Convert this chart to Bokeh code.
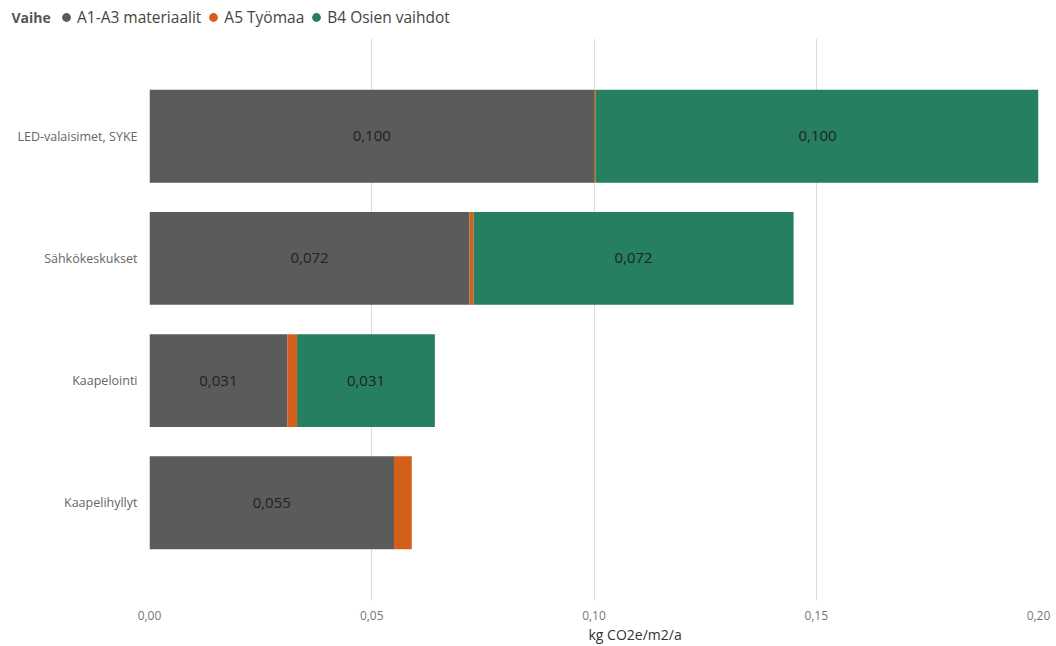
from bokeh.plotting import figure
from bokeh.layouts import column
from bokeh.models import (ColumnDataSource, FactorRange, FixedTicker, Legend, LegendItem,
                          Title, LabelSet, Label)
from bokeh.core.properties import value
from bokeh.embed import file_html
from bokeh.resources import INLINE

categories = ["LED-valaisimet, SYKE", "Sähkökeskukset", "Kaapelointi", "Kaapelihyllyt"]
a1_a3 = [0.100, 0.072, 0.031, 0.055]
a5 = [0.0003, 0.0009, 0.0022, 0.0040]
b4 = [0.100, 0.072, 0.031, 0.0]
series_names = ["A1-A3 materiaalit", "A5 Työmaa", "B4 Osien vaihdot"]
colors = ["#5b5b5b", "#d35f1b", "#267f60"]
x_ticks = [0.0, 0.05, 0.10, 0.15, 0.20]
x_tick_labels = ["0,00", "0,05", "0,10", "0,15", "0,20"]
legend_title = "Vaihe"

FONT = "Open Sans"

# ---- legend strip ----
lg = figure(width=1056, height=38, output_backend="svg", toolbar_location=None,
            x_range=(0, 1056), y_range=(38, 0), min_border=0,
            min_border_left=0, min_border_right=0, min_border_top=0, min_border_bottom=0,
            x_axis_location=None, y_axis_location=None)
lg.frame_align = False
lg.outline_line_color = None
lg.grid.visible = False
lg.add_layout(Label(x=11, y=17, text=legend_title, text_font=FONT, text_font_size="14px",
                    text_font_style="bold", text_color="#555555", text_baseline="middle"))
items = []
for name, c in zip(series_names, colors):
    # swatch-only renderer (its single point lies outside the strip's range)
    r = lg.scatter(x=[-100], y=[-100], marker="circle", size=9, fill_color=c, line_color=None)
    items.append(LegendItem(label=name, renderers=[r]))
legend = Legend(items=items, orientation="horizontal",
                location=(55, 10), border_line_color=None, background_fill_alpha=0,
                padding=0, margin=0, spacing=1, glyph_width=22, glyph_height=22,
                label_height=14, label_standoff=0, label_text_font=FONT,
                label_text_font_size="15.5px", label_text_color="#444444")
lg.add_layout(legend, "center")

# ---- main chart ----
cats_rev = list(reversed(categories))
p = figure(width=1056, height=608, output_backend="svg", toolbar_location=None,
           y_range=FactorRange(factors=cats_rev, range_padding=0.3,
                               range_padding_units="absolute"),
           x_range=(0, 0.2), min_border_left=149, min_border_right=18,
           min_border_top=0, min_border_bottom=46)
p.frame_align = False
p.outline_line_color = None

data = dict(cat=categories, a1=a1_a3, a5=a5, b4=b4)
s1 = [a for a in a1_a3]
s2 = [a + b for a, b in zip(a1_a3, a5)]
s3 = [a + b + c for a, b, c in zip(a1_a3, a5, b4)]
data["l1"] = [0.0] * len(categories)
data["r1"] = s1
data["l2"] = s1
data["r2"] = s2
data["l3"] = s2
data["r3"] = s3
data["m1"] = [(l + r) / 2 for l, r in zip(data["l1"], data["r1"])]
data["m3"] = [(l + r) / 2 for l, r in zip(data["l3"], data["r3"])]
data["t1"] = ["{:.3f}".format(v).replace(".", ",") for v in a1_a3]
data["t3"] = ["{:.3f}".format(v).replace(".", ",") if v > 0 else "" for v in b4]
src = ColumnDataSource(data)

for i, c in enumerate(colors):
    p.hbar(y="cat", left="l%d" % (i + 1), right="r%d" % (i + 1), height=0.76,
           source=src, fill_color=c, line_color=None)

for m, t in (("m1", "t1"), ("m3", "t3")):
    lbl = LabelSet(x=m, y="cat", text=t, source=src, text_align="center",
                   text_baseline="middle", text_font=value(FONT), text_font_size="15px",
                   text_color="#222222")
    p.add_layout(lbl)

p.xaxis.ticker = FixedTicker(ticks=x_ticks)
p.xaxis.major_label_overrides = {t: l for t, l in zip(x_ticks, x_tick_labels)}
p.xaxis.axis_line_color = None
p.xaxis.major_tick_line_color = None
p.xaxis.minor_tick_line_color = None
p.xaxis.major_tick_out = 0
p.xaxis.major_tick_in = 0
p.xaxis.major_label_text_font = FONT
p.xaxis.major_label_text_font_size = "12px"
p.xaxis.major_label_text_color = "#777777"
p.xaxis.major_label_standoff = 10

p.yaxis.axis_line_color = None
p.yaxis.major_tick_line_color = None
p.yaxis.minor_tick_line_color = None
p.yaxis.major_label_text_font = FONT
p.yaxis.major_label_text_font_size = "12.5px"
p.yaxis.major_label_text_color = "#666666"
p.yaxis.major_label_standoff = 6

p.ygrid.grid_line_color = None
p.xgrid.grid_line_color = "#dcdcdc"
p.xgrid.grid_line_width = 1

p.add_layout(Title(text="kg CO2e/m2/a", align="left", offset=439,
                   text_font=FONT, text_font_size="14px", text_font_style="normal",
                   text_color="#333333", standoff=0), "below")

layout = column(lg, p, spacing=0)
open("out.html", "w").write(file_html(layout, INLINE))
